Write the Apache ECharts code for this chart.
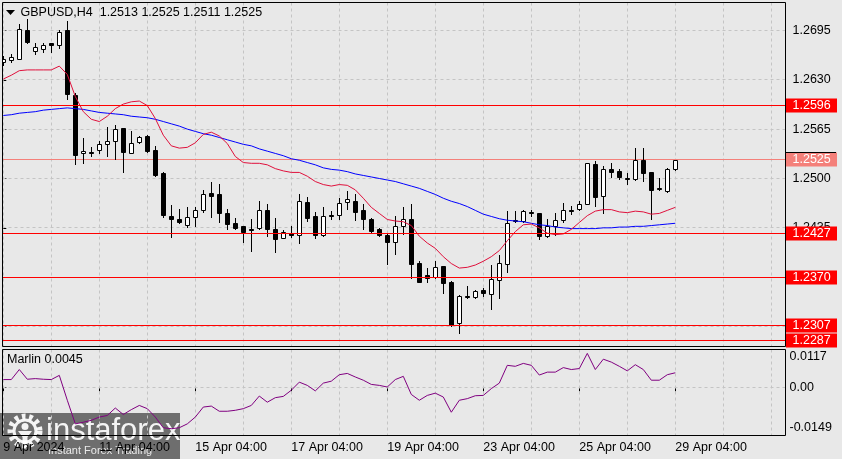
<!DOCTYPE html>
<html><head><meta charset="utf-8">
<script src="https://cdn.jsdelivr.net/npm/echarts@6/dist/echarts.min.js"></script>
<style>html,body{margin:0;padding:0;background:#e8e8e8;overflow:hidden}#c{width:842px;height:459px}</style>
</head><body><div id="c"></div>
<script>
// ---------- DATA ----------
const symbolName = 'GBPUSD,H4';
const indicatorName = 'Marlin';
const xTickBars = [0, 12, 24, 36, 48, 60, 72, 84];
const xTickLabels = ['9 Apr 2024', '11 Apr 04:00', '15 Apr 04:00', '17 Apr 04:00', '19 Apr 04:00', '23 Apr 04:00', '25 Apr 04:00', '29 Apr 04:00'];
const gridBars = [0, 6, 12, 18, 24, 30, 36, 42, 48, 54, 60, 66, 72, 78, 84, 90, 96];
const priceTicks = [1.2305, 1.2370, 1.2435, 1.2500, 1.2565, 1.2630, 1.2695];
const levelPrices = [1.2596, 1.2427, 1.2370, 1.2307, 1.2287];
const bidPrice = 1.2525;
const marlinTicks = [0.0117, 0, -0.0149];
const marlinTickLabels = ['0.0117', '0.00', '-0.0149'];

const openP = [1.2653,1.2656,1.2658,1.2696,1.2668,1.2671,1.2678,1.2676,1.2695,1.2610,
 1.2533,1.2535,1.2537,1.2545,1.2550,1.2566,1.2534,1.2548,1.2556,1.2537,
 1.2507,1.2451,1.2446,1.2439,1.2449,1.2459,1.2481,1.2479,1.2454,1.2441,
 1.2437,1.2434,1.2435,1.2458,1.2434,1.2422,1.2428,1.2426,1.2469,1.2450,
 1.2426,1.2452,1.2452,1.2469,1.2471,1.2458,1.2447,1.2433,1.2426,1.2417,
 1.2438,1.2447,1.2389,1.2373,1.2370,1.2385,1.2364,1.2309,1.2345,1.2344,
 1.2353,1.2348,1.2366,1.2387,1.2444,1.2444,1.2456,1.2454,1.2424,1.2437,
 1.2445,1.2459,1.2460,1.2467,1.2519,1.2477,1.2513,1.2510,1.2501,1.2499,
 1.2524,1.2508,1.2488,1.2483,1.2513];
const highP = [1.2661,1.2664,1.2703,1.2710,1.2679,1.2679,1.2679,1.2695,1.2708,1.2612,
 1.2553,1.2541,1.2549,1.2568,1.2571,1.2567,1.2563,1.2556,1.2557,1.2543,
 1.2508,1.2465,1.2460,1.2462,1.2462,1.2485,1.2496,1.2493,1.2460,1.2448,
 1.2438,1.2446,1.2471,1.2466,1.2448,1.2432,1.2438,1.2479,1.2475,1.2456,
 1.2463,1.2457,1.2474,1.2483,1.2480,1.2467,1.2448,1.2435,1.2428,1.2451,
 1.2462,1.2467,1.2391,1.2382,1.2391,1.2385,1.2365,1.2346,1.2359,1.2353,
 1.2356,1.2386,1.2399,1.2457,1.2457,1.2459,1.2459,1.2455,1.2446,1.2454,
 1.2468,1.2464,1.2470,1.2521,1.2523,1.2516,1.2521,1.2512,1.2507,1.2540,
 1.2540,1.2508,1.2501,1.2514,1.2525];
const lowP = [1.2650,1.2654,1.2657,1.2678,1.2664,1.2667,1.2667,1.2672,1.2605,1.2519,
 1.2521,1.2530,1.2534,1.2530,1.2526,1.2509,1.2533,1.2547,1.2535,1.2503,
 1.2449,1.2423,1.2442,1.2436,1.2438,1.2456,1.2449,1.2443,1.2433,1.2434,
 1.2417,1.2405,1.2433,1.2424,1.2403,1.2421,1.2423,1.2415,1.2444,1.2421,
 1.2424,1.2446,1.2446,1.2460,1.2445,1.2433,1.2429,1.2424,1.2387,1.2400,
 1.2427,1.2369,1.2363,1.2363,1.2369,1.2349,1.2306,1.2296,1.2342,1.2343,
 1.2345,1.2328,1.2342,1.2377,1.2443,1.2443,1.2451,1.2420,1.2423,1.2425,
 1.2443,1.2453,1.2458,1.2466,1.2464,1.2454,1.2502,1.2499,1.2493,1.2498,
 1.2497,1.2447,1.2485,1.2482,1.2511];
const closeP = [1.2657,1.2660,1.2697,1.2680,1.2673,1.2676,1.2676,1.2693,1.2611,1.2531,
 1.2536,1.2534,1.2546,1.2549,1.2565,1.2535,1.2547,1.2554,1.2536,1.2505,
 1.2452,1.2447,1.2443,1.2449,1.2459,1.2479,1.2477,1.2455,1.2440,1.2435,
 1.2430,1.2432,1.2459,1.2433,1.2420,1.2429,1.2426,1.2470,1.2448,1.2426,
 1.2450,1.2450,1.2468,1.2473,1.2456,1.2446,1.2431,1.2425,1.2416,1.2438,
 1.2446,1.2387,1.2364,1.2369,1.2383,1.2362,1.2307,1.2345,1.2344,1.2352,
 1.2349,1.2368,1.2389,1.2441,1.2445,1.2457,1.2454,1.2424,1.2438,1.2445,
 1.2459,1.2457,1.2466,1.2520,1.2476,1.2513,1.2509,1.2502,1.2499,1.2524,
 1.2507,1.2485,1.2486,1.2513,1.2525];
const maRed = [1.2631,1.2636,1.2642,1.2643,1.2643,1.2643,1.2643,1.2648,1.2637,1.2608,
 1.2588,1.2578,1.2575,1.2582,1.2592,1.2598,1.2601,1.2602,1.2596,1.2579,
 1.2557,1.2543,1.2540,1.2541,1.2547,1.2558,1.2561,1.2556,1.2546,1.2529,
 1.2521,1.2520,1.2520,1.2518,1.2513,1.2510,1.2508,1.2508,1.2503,1.2496,
 1.2492,1.2490,1.2492,1.2491,1.2485,1.2474,1.2462,1.2454,1.2446,1.2444,
 1.2443,1.2438,1.2424,1.2415,1.2408,1.2397,1.2388,1.2382,1.2383,1.2386,
 1.2391,1.2397,1.2405,1.2418,1.2430,1.2439,1.2440,1.2435,1.2428,1.2426,
 1.2427,1.2433,1.2442,1.2451,1.2457,1.2459,1.2459,1.2456,1.2455,1.2457,
 1.2456,1.2453,1.2454,1.2458,1.2462];
const maBlue = [1.2583,1.2584,1.2586,1.2587,1.2588,1.2590,1.2591,1.2592,1.2593,1.2592,
 1.2591,1.2589,1.2587,1.2586,1.2585,1.2584,1.2582,1.2581,1.2580,1.2578,
 1.2575,1.2572,1.2569,1.2565,1.2562,1.2559,1.2557,1.2554,1.2551,1.2548,
 1.2545,1.2543,1.2539,1.2536,1.2533,1.2530,1.2526,1.2524,1.2521,1.2518,
 1.2514,1.2512,1.2511,1.2509,1.2506,1.2504,1.2502,1.2500,1.2498,1.2496,
 1.2493,1.2490,1.2487,1.2483,1.2479,1.2474,1.2470,1.2467,1.2463,1.2458,
 1.2453,1.2450,1.2447,1.2445,1.2444,1.2443,1.2441,1.2439,1.2438,1.2436,
 1.2435,1.2434,1.2434,1.2434,1.2434,1.2435,1.2435,1.2436,1.2436,1.2437,
 1.2437,1.2438,1.2439,1.2440,1.2441];
const marlin = [0.0024,0.0024,0.0055,0.0025,0.0027,0.0025,0.0024,0.0037,-0.0040,-0.0113,
 -0.0108,-0.0102,-0.0092,-0.0087,-0.0064,-0.0084,-0.0069,-0.0056,-0.0066,-0.0092,
 -0.0125,-0.0128,-0.0125,-0.0113,-0.0092,-0.0061,-0.0058,-0.0074,-0.0074,-0.0071,
 -0.0066,-0.0056,-0.0027,-0.0046,-0.0032,-0.0028,-0.0009,0.0016,0.0006,-0.0011,
 0.0013,0.0019,0.0039,0.0043,0.0032,0.0022,0.0009,0.0006,0.0001,0.0024,
 0.0034,-0.0022,-0.0040,-0.0025,-0.0018,-0.0030,-0.0077,-0.0040,-0.0035,-0.0026,
 -0.0025,-0.0004,0.0013,0.0068,0.0065,0.0074,0.0068,0.0038,0.0047,0.0047,
 0.0061,0.0055,0.0058,0.0105,0.0055,0.0087,0.0078,0.0065,0.0051,0.0070,
 0.0055,0.0022,0.0022,0.0039,0.0045];

// ---------- LAYOUT / STYLE ----------
const FONT = '"Liberation Sans", Arial, sans-serif';
const FS = 12.5;
const X_MIN = -0.1, X_MAX = 97.775;
const Y_MIN = 1.22787, Y_MAX = 1.27318;
const M_MIN = -0.0149, M_MAX = 0.0117;
const GRID_COL = '#c4c4c4';

const chart = echarts.init(document.getElementById('c'), null, {renderer: 'canvas', width: 842, height: 459});
const N = openP.length;
const candleData = openP.map((o, i) => [i, o, highP[i], lowP[i], closeP[i]]);
const last = N - 1;

function candleItem(params, api) {
  const i = api.value(0), o = api.value(1), h = api.value(2), l = api.value(3), c = api.value(4);
  const cx = Math.floor(api.coord([i, o])[0]) + 0.5;
  const yo = Math.round(api.coord([i, o])[1]);
  const yc = Math.round(api.coord([i, c])[1]);
  const yh = Math.round(api.coord([i, h])[1]);
  const yl = Math.round(api.coord([i, l])[1]);
  const top = Math.min(yo, yc), bot = Math.max(yo, yc);
  const children = [{type: 'line', shape: {x1: cx, y1: yh, x2: cx, y2: yl + 1}, style: {stroke: '#000', lineWidth: 1}}];
  if (bot - top < 1) {
    children.push({type: 'line', shape: {x1: cx - 2.5, y1: top + 0.5, x2: cx + 2.5, y2: top + 0.5}, style: {stroke: '#000', lineWidth: 1}});
  } else {
    children.push({type: 'rect', shape: {x: cx - 2, y: top + 0.5, width: 4, height: bot - top},
      style: {fill: c >= o ? '#ffffff' : '#000000', stroke: '#000', lineWidth: 1}});
  }
  return {type: 'group', children};
}
function hGridItem(params, api) {
  const cs = params.coordSys;
  const y = Math.floor(api.coord([api.value(0), api.value(1)])[1]) + 0.5;
  return {type: 'line', shape: {x1: cs.x, y1: y, x2: cs.x + cs.width, y2: y},
    style: {stroke: GRID_COL, lineWidth: 1, lineDash: [3, 3]}};
}
function vGridItem(params, api) {
  const cs = params.coordSys;
  const x = Math.floor(api.coord([api.value(0), api.value(1)])[0]) + 0.5;
  return {type: 'line', shape: {x1: x, y1: cs.y, x2: x, y2: cs.y + cs.height},
    style: {stroke: GRID_COL, lineWidth: 1, lineDash: [3, 3]}};
}
function makeLevelItem(color) {
  return function (params, api) {
    const cs = params.coordSys;
    const v = api.value(1);
    const yRow = Math.floor(api.coord([api.value(0), v])[1]);
    const right = cs.x + cs.width;
    return {type: 'group', children: [
      {type: 'rect', shape: {x: cs.x, y: yRow, width: cs.width, height: 1}, style: {fill: color}},
      {type: 'rect', shape: {x: right + 0.5, y: yRow - 6.5, width: 51, height: 14}, style: {fill: color}},
      {type: 'text', x: right + 7, y: yRow + 1, style: {text: v.toFixed(4), fill: '#ffffff', font: FS + 'px ' + FONT, align: 'left', verticalAlign: 'middle'}}
    ]};
  };
}

const option = {
  animation: false,
  backgroundColor: '#e8e8e8',
  grid: [
    {left: 2.5, top: 2.5, width: 783, height: 344, show: false},
    {left: 2.5, top: 349.5, width: 783, height: 86, show: false}
  ],
  xAxis: [
    {type: 'value', gridIndex: 0, min: X_MIN, max: X_MAX, show: false},
    {type: 'value', gridIndex: 1, min: X_MIN, max: X_MAX, position: 'bottom',
      axisLine: {show: false}, splitLine: {show: false},
      axisTick: {show: true, customValues: xTickBars, length: 4, lineStyle: {color: '#000'}},
      axisLabel: {show: true, customValues: xTickBars, formatter: v => xTickLabels[xTickBars.indexOf(v)],
        align: 'left', margin: 6, color: '#000', fontFamily: FONT, fontSize: FS}}
  ],
  yAxis: [
    {type: 'value', gridIndex: 0, position: 'right', min: Y_MIN, max: Y_MAX, scale: true,
      axisLine: {show: false}, splitLine: {show: false},
      axisTick: {show: true, customValues: priceTicks, length: 3, lineStyle: {color: '#000'}},
      axisLabel: {show: true, customValues: priceTicks, formatter: v => v.toFixed(4), margin: 7,
        color: '#000', fontFamily: FONT, fontSize: FS}},
    {type: 'value', gridIndex: 1, position: 'right', min: M_MIN, max: M_MAX, scale: true,
      axisLine: {show: false}, splitLine: {show: false},
      axisTick: {show: true, customValues: [0], length: 3, lineStyle: {color: '#000'}},
      axisLabel: {show: true, customValues: marlinTicks, margin: 4, color: '#000', fontFamily: FONT, fontSize: FS,
        formatter: v => {
          const k = marlinTicks.indexOf(v);
          const s = marlinTickLabels[k];
          return k === 0 ? '{t|' + s + '}' : (k === marlinTicks.length - 1 ? '{b|' + s + '}' : '{m|' + s + '}');
        },
        rich: {
          t: {padding: [14, 0, 0, 0], fontFamily: FONT, fontSize: FS, color: '#000'},
          b: {padding: [0, 0, 16, 0], fontFamily: FONT, fontSize: FS, color: '#000'},
          m: {fontFamily: FONT, fontSize: FS, color: '#000'}
        }}}
  ],
  series: [
    {type: 'custom', name: 'hgrid', xAxisIndex: 0, yAxisIndex: 0, z: 1, silent: true,
      data: priceTicks.map(v => [0, v]), renderItem: hGridItem},
    {type: 'custom', name: 'vgrid', xAxisIndex: 0, yAxisIndex: 0, z: 1, silent: true,
      data: gridBars.map(b => [b, bidPrice]), renderItem: vGridItem},
    {type: 'custom', name: 'hgrid2', xAxisIndex: 1, yAxisIndex: 1, z: 1, silent: true,
      data: [[0, 0]], renderItem: hGridItem},
    {type: 'custom', name: 'vgrid2', xAxisIndex: 1, yAxisIndex: 1, z: 1, silent: true,
      data: gridBars.map(b => [b, 0]), renderItem: vGridItem},
    {type: 'custom', name: 'bid', xAxisIndex: 0, yAxisIndex: 0, z: 2, silent: true, clip: false,
      data: [[0, bidPrice]], renderItem: makeLevelItem('#f4807a')},
    {type: 'custom', name: symbolName, xAxisIndex: 0, yAxisIndex: 0, z: 3, clip: true,
      encode: {x: 0, y: [1, 2, 3, 4]}, data: candleData, renderItem: candleItem},
    {type: 'line', name: 'MA slow', xAxisIndex: 0, yAxisIndex: 0, z: 4, showSymbol: false, silent: true,
      data: maBlue.map((v, i) => [i, v]), lineStyle: {color: '#0000ff', width: 1}},
    {type: 'line', name: 'MA fast', xAxisIndex: 0, yAxisIndex: 0, z: 4, showSymbol: false, silent: true,
      data: maRed.map((v, i) => [i, v]), lineStyle: {color: '#e0103c', width: 1}},
    {type: 'custom', name: 'levels', xAxisIndex: 0, yAxisIndex: 0, z: 5, silent: true, clip: false,
      data: levelPrices.map(v => [0, v]), renderItem: makeLevelItem('#ff0000')},
    {type: 'line', name: indicatorName, xAxisIndex: 1, yAxisIndex: 1, z: 4, showSymbol: false, silent: true,
      data: marlin.map((v, i) => [i, v]), lineStyle: {color: '#800080', width: 1}}
  ],
  graphic: [
    {type: 'rect', z: 50, silent: true, shape: {x: 2.5, y: 2.5, width: 783, height: 344}, style: {fill: null, stroke: '#000', lineWidth: 1}},
    {type: 'rect', z: 50, silent: true, shape: {x: 2.5, y: 349.5, width: 783, height: 86}, style: {fill: null, stroke: '#000', lineWidth: 1}},
    {type: 'line', z: 50, silent: true, shape: {x1: 786, y1: 152.5, x2: 836, y2: 152.5}, style: {stroke: '#000', lineWidth: 1}},
    {type: 'polygon', z: 50, silent: true, shape: {points: [[6, 10], [15, 10], [10.5, 15]]}, style: {fill: '#000'}},
    {type: 'text', z: 50, silent: true, x: 20.5, y: 13,
      style: {text: symbolName + '  ' + [openP[last], highP[last], lowP[last], closeP[last]].map(v => v.toFixed(4)).join(' '),
        fill: '#000', font: FS + 'px ' + FONT, verticalAlign: 'middle'}},
    {type: 'text', z: 50, silent: true, x: 7, y: 359.5,
      style: {text: indicatorName + ' ' + marlin[last].toFixed(4), fill: '#000', font: FS + 'px ' + FONT, verticalAlign: 'middle'}},
    // watermark
    {type: 'group', z: 60, silent: true, children: [
      {type: 'rect', shape: {x: 0, y: 413, width: 180, height: 46}, style: {fill: 'rgba(35,35,35,0.62)'}},
      {type: 'circle', shape: {cx: 25, cy: 431, r: 14.5}, style: {fill: null, stroke: 'rgba(255,255,255,0.92)', lineWidth: 6, lineDash: [3.6, 3.6]}},
      {type: 'circle', shape: {cx: 25, cy: 431, r: 11}, style: {fill: null, stroke: 'rgba(255,255,255,0.92)', lineWidth: 3}},
      {type: 'circle', shape: {cx: 25, cy: 426.5, r: 3.5}, style: {fill: 'rgba(255,255,255,0.92)'}},
      {type: 'polygon', shape: {points: [[18, 431], [32, 431], [27.5, 437], [27.5, 447], [22.5, 447], [22.5, 437]]}, style: {fill: 'rgba(255,255,255,0.92)'}},
      {type: 'text', x: 46, y: 431, style: {text: 'instaforex', fill: 'rgba(255,255,255,0.92)', font: '31px ' + FONT, verticalAlign: 'middle'}},
      {type: 'text', x: 48, y: 450.5, style: {text: 'Instant Forex Trading', fill: 'rgba(255,255,255,0.85)', font: '11px ' + FONT, verticalAlign: 'middle'}}
    ]}
  ]
};
chart.setOption(option);
</script>
</body></html>
